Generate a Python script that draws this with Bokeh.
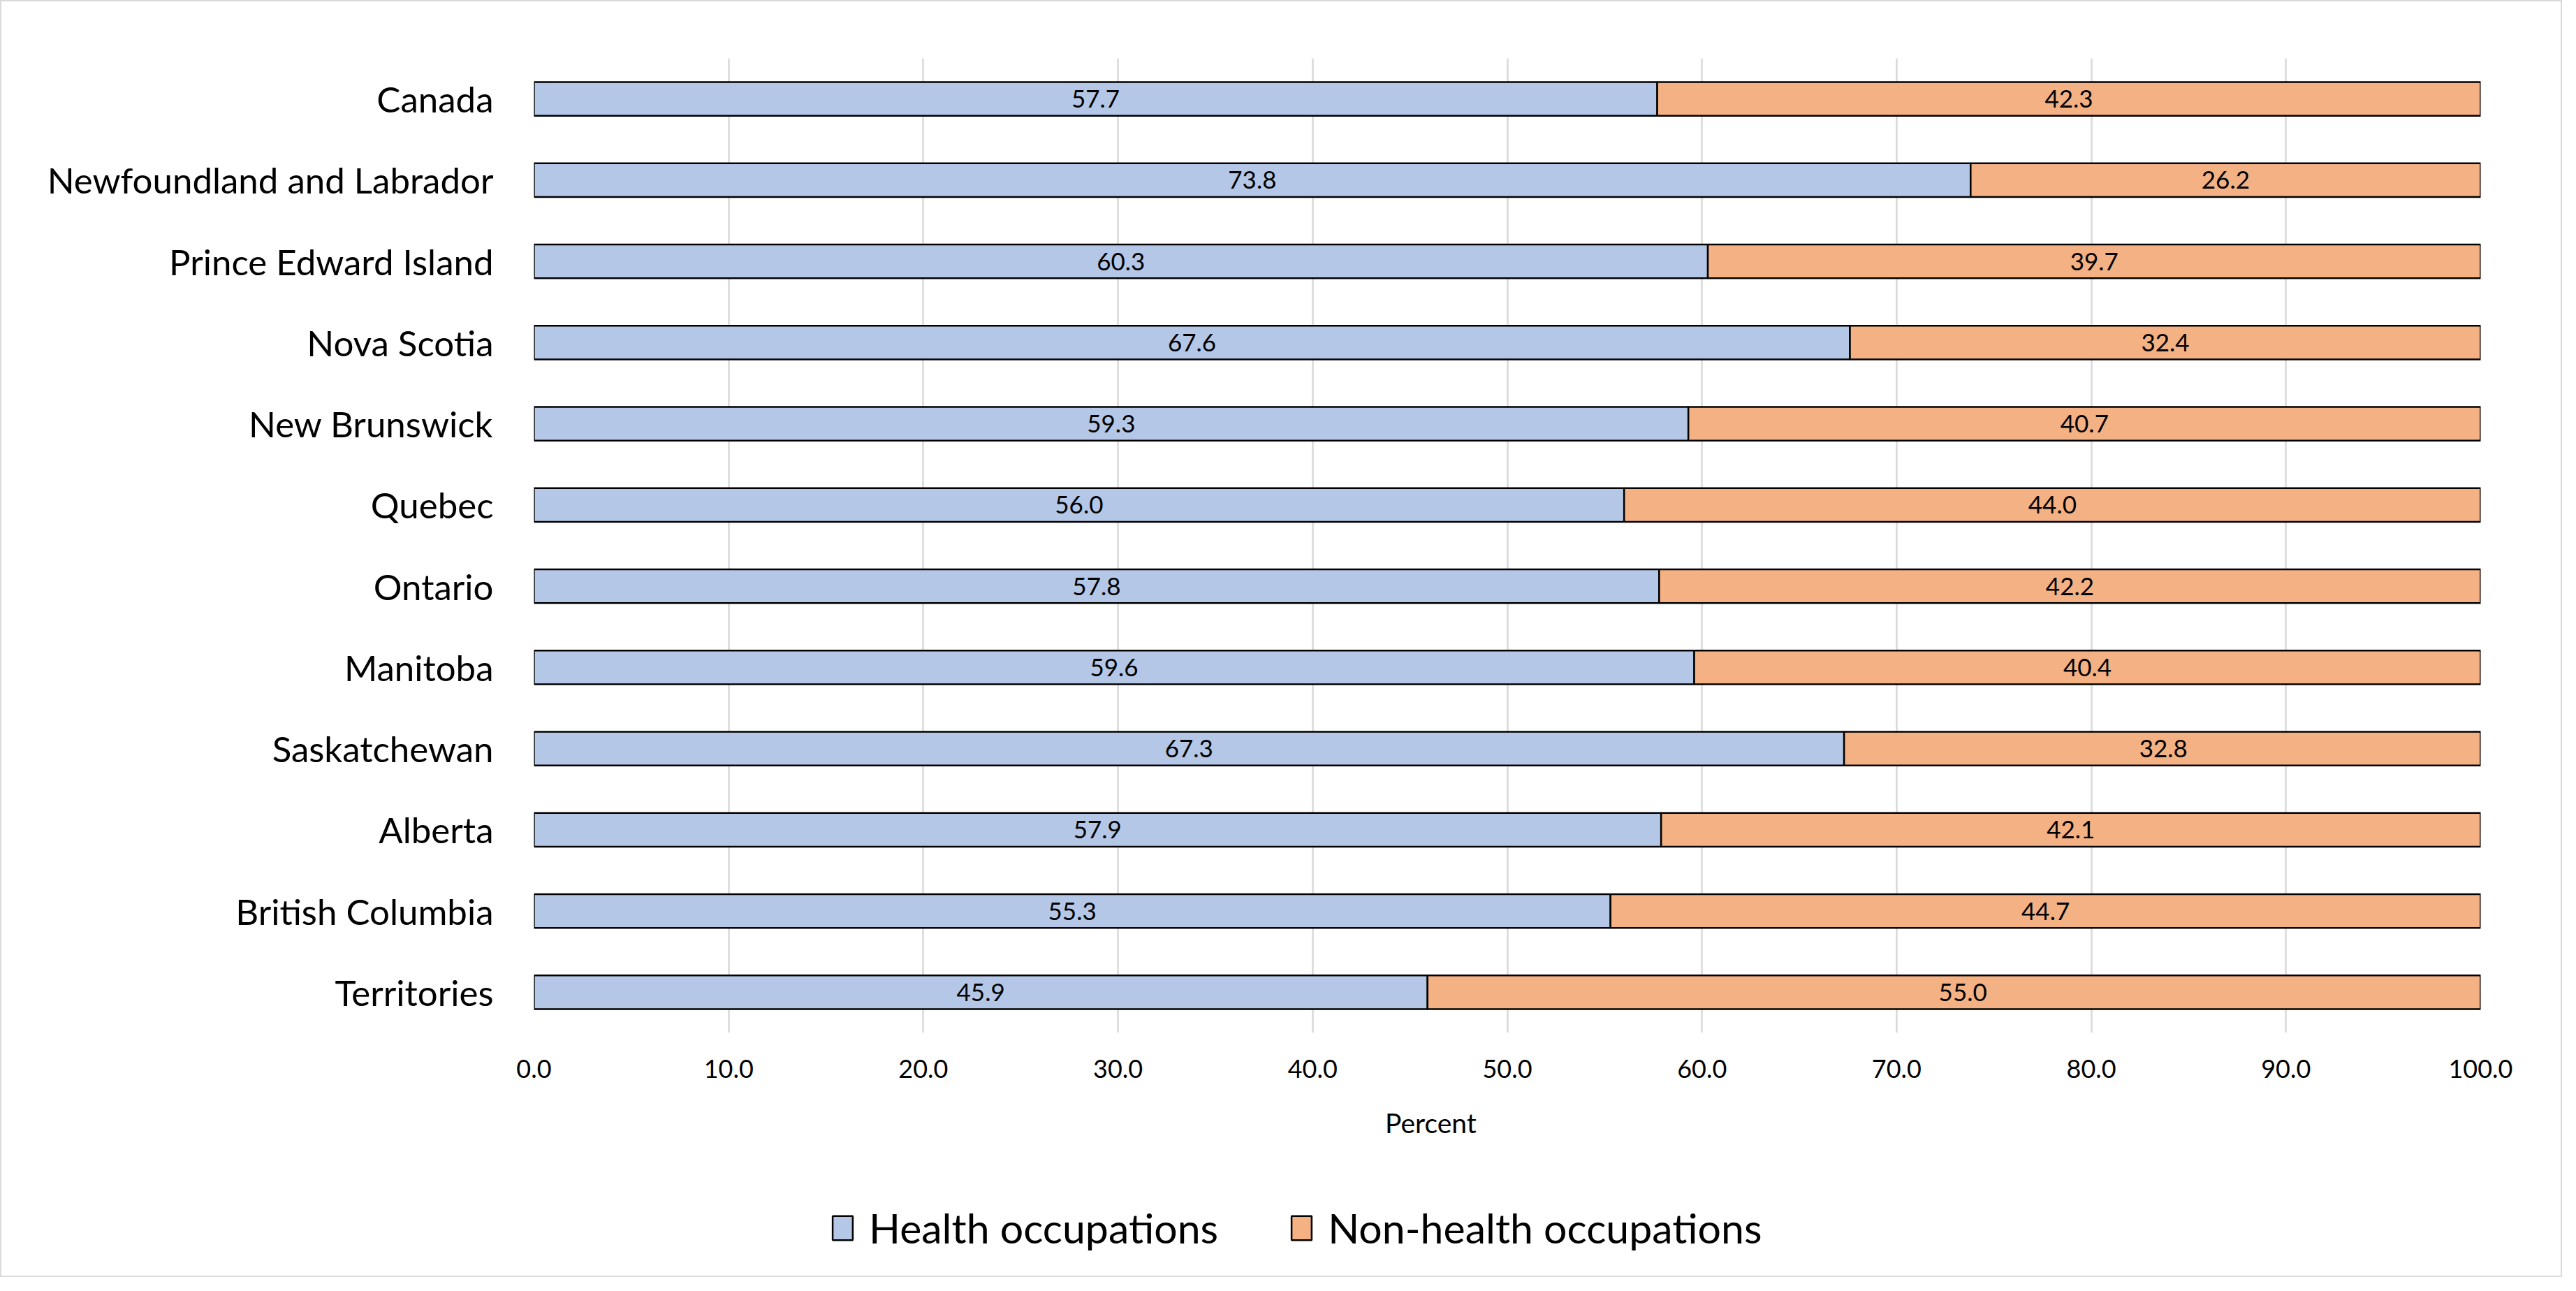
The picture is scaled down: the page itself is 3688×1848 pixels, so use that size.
from bokeh.plotting import figure
from bokeh.layouts import column
from bokeh.models import (FactorRange, Range1d, ColumnDataSource, Legend, LegendItem, Label,
                          NumeralTickFormatter, FixedTicker)
from bokeh.embed import file_html
from bokeh.resources import INLINE
from bokeh.core.properties import value

regions = ["Canada", "Newfoundland and Labrador", "Prince Edward Island", "Nova Scotia",
           "New Brunswick", "Quebec", "Ontario", "Manitoba", "Saskatchewan", "Alberta",
           "British Columbia", "Territories"]
health = [57.7, 73.8, 60.3, 67.6, 59.3, 56.0, 57.8, 59.6, 67.3, 57.9, 55.3, 45.9]
non_health = [42.3, 26.2, 39.7, 32.4, 40.7, 44.0, 42.2, 40.4, 32.8, 42.1, 44.7, 55.0]
x_ticks = [0, 10, 20, 30, 40, 50, 60, 70, 80, 90, 100]
series_names = ["Health occupations", "Non-health occupations"]
x_title = "Percent"

FONT = "Lato"
C_H = "#B4C7E7"
C_N = "#F4B183"
BORDER = "2px solid #d9d9d9"

src = ColumnDataSource(dict(
    region=regions, health=health, non=non_health,
    end=[h + n for h, n in zip(health, non_health)],
    hmid=[h / 2 for h in health],
    nmid=[h + n / 2 for h, n in zip(health, non_health)],
    hlab=[f"{h:.1f}" for h in health],
    nlab=[f"{n:.1f}" for n in non_health],
))

W = 3668
H1, H2 = 1568, 260
LEFT, RIGHT = 762, 119
xr = Range1d(0, 100)

# ---------------- main chart ----------------
p = figure(width=W, height=H1, output_backend="svg", toolbar_location=None,
           y_range=FactorRange(*list(reversed(regions))), x_range=xr,
           min_border_left=LEFT, min_border_right=RIGHT, min_border_top=81, min_border_bottom=92)
p.styles = {"border-top": BORDER, "border-left": BORDER, "border-right": BORDER}
p.outline_line_color = None

p.hbar(y="region", left=0, right="health", height=0.413, source=src,
       fill_color=C_H, line_color="black", line_width=2.5)
p.hbar(y="region", left="health", right="end", height=0.413, source=src,
       fill_color=C_N, line_color="black", line_width=2.5)

p.text(x="hmid", y="region", text="hlab", source=src, text_align="center",
       text_baseline="middle", text_font=value(FONT), text_font_size="35px", text_color="black")
p.text(x="nmid", y="region", text="nlab", source=src, text_align="center",
       text_baseline="middle", text_font=value(FONT), text_font_size="35px", text_color="black")

p.xaxis.ticker = FixedTicker(ticks=x_ticks)
p.xaxis.formatter = NumeralTickFormatter(format="0.0")
p.xaxis.axis_line_color = None
p.xaxis.major_tick_line_color = None
p.xaxis.minor_tick_line_color = None
p.xaxis.major_label_text_font = FONT
p.xaxis.major_label_text_font_size = "36px"
p.xaxis.major_label_text_color = "black"
p.xaxis.major_label_standoff = 32

p.yaxis.axis_line_color = None
p.yaxis.major_tick_line_color = None
p.yaxis.minor_tick_line_color = None
p.yaxis.major_label_text_font = FONT
p.yaxis.major_label_text_font_size = "51px"
p.yaxis.major_label_text_color = "black"
p.yaxis.major_label_standoff = 52

p.xgrid.grid_line_color = "#d9d9d9"
p.xgrid.grid_line_width = 2.5
p.ygrid.grid_line_color = None

# ---------------- axis title + legend ----------------
p2 = figure(width=W, height=H2, output_backend="svg", toolbar_location=None,
            x_range=xr, y_range=Range1d(0, H2), x_axis_location=None, y_axis_location=None,
            min_border_left=LEFT, min_border_right=RIGHT, min_border_top=0, min_border_bottom=0)
p2.styles = {"border-bottom": BORDER, "border-left": BORDER, "border-right": BORDER}
p2.outline_line_color = None
p2.grid.visible = False

p2.add_layout(Label(x=46.07, y=222, text=x_title, text_font=FONT, text_font_size="39px",
                    text_align="center", text_baseline="middle", text_color="black"))

# off-screen proxy renderers that only supply the legend swatches
g1 = p2.hbar(y=[-1000], left=[0], right=[1], height=1, fill_color=C_H, line_color="black", line_width=2.5)
g2 = p2.hbar(y=[-1000], left=[0], right=[1], height=1, fill_color=C_N, line_color="black", line_width=2.5)

legend = Legend(items=[LegendItem(label=series_names[0], renderers=[g1]),
                       LegendItem(label=series_names[1], renderers=[g2])],
                orientation="horizontal", location=(424, 35),
                label_text_font=FONT, label_text_font_size="59px", label_text_color="black",
                glyph_width=36, glyph_height=43, label_standoff=20, spacing=101,
                padding=0, margin=0, border_line_color=None, background_fill_alpha=0)
p2.add_layout(legend)

layout = column(p, p2, spacing=0)
open("out.html", "w").write(file_html(layout, INLINE))
